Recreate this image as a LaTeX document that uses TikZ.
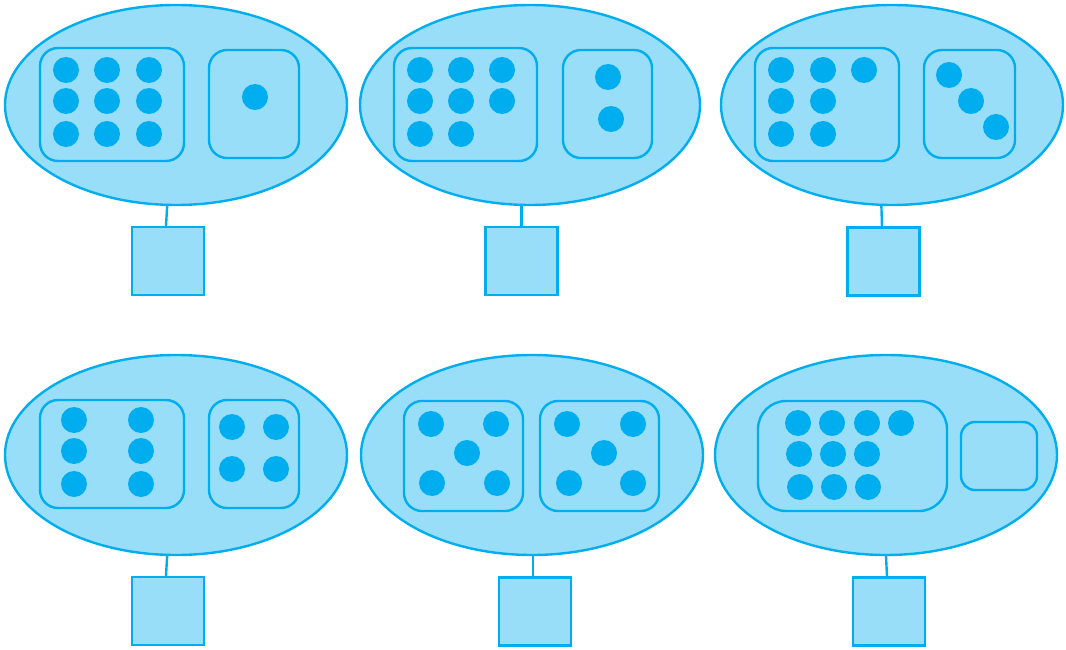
\documentclass[tikz,border=0pt]{standalone}
\usetikzlibrary{shapes.geometric}
\definecolor{cyanline}{HTML}{00AEEF}
\definecolor{cyanfill}{HTML}{99DEF8}
\begin{document}
\begin{tikzpicture}[x=1pt,y=-1pt,
  oval/.style={ellipse, draw=cyanline, fill=cyanfill, line width=2.4pt, minimum width=342pt, minimum height=200pt, inner sep=0pt},
  tray/.style={rectangle, rounded corners=18pt, draw=cyanline, fill=cyanfill, line width=2.4pt, inner sep=0pt},
  sq/.style={rectangle, draw=cyanline, fill=cyanfill, line width=2.4pt, minimum width=72pt, minimum height=68pt, inner sep=0pt},
  dot/.style={circle, fill=cyanline, minimum size=26pt, inner sep=0pt},
  link/.style={draw=cyanline, line width=2.4pt}]
\useasboundingbox (0,0) rectangle (1066,650);

% ---------- panel 1 ----------
\node[oval] (e1) at (176,105) {};
\node[tray, minimum width=144pt, minimum height=113pt] (t1a) at (112,104.5) {};
\node[tray, minimum width=90pt, minimum height=108pt] (t1b) at (254,104) {};
\foreach \x/\y [count=\i] in {66/70,107/70,149/70,66/101,107/101,149/101,66/134,107/134,149/134}
  \node[dot] (p1d\i) at (\x,\y) {};
\node[dot] (p1e1) at (255,97) {};
\node[sq] (s1) at (168,261) {};
\draw[link] (e1.265) -- ([xshift=-2pt]s1.north);

% ---------- panel 2 ----------
\node[oval, minimum width=340pt] (e2) at (530,105) {};
\node[tray, minimum width=143pt, minimum height=113pt] (t2a) at (465.5,104.5) {};
\node[tray, minimum width=89pt, minimum height=108pt] (t2b) at (607.5,104) {};
\foreach \x/\y [count=\i] in {420/70,461/70,502/70,420/101,461/101,502/101,420/134,461/134}
  \node[dot] (p2d\i) at (\x,\y) {};
\node[dot] (p2e1) at (608,77) {};
\node[dot] (p2e2) at (611,119) {};
\node[sq] (s2) at (521.5,261) {};
\draw[link] (e2.south -| s2.north) -- (s2.north);

% ---------- panel 3 ----------
\node[oval] (e3) at (892,105) {};
\node[tray, minimum width=144pt, minimum height=113pt] (t3a) at (827,104.5) {};
\node[tray, minimum width=91pt, minimum height=108pt] (t3b) at (969.5,104) {};
\foreach \x/\y [count=\i] in {781/70,823/70,864/70,781/101,823/101,781/134,823/134}
  \node[dot] (p3d\i) at (\x,\y) {};
\foreach \x/\y [count=\i] in {949/75,971/101,996/127}
  \node[dot] (p3e\i) at (\x,\y) {};
\node[sq] (s3) at (883.5,261.5) {};
\draw[link] (e3.264) -- ([xshift=-1.5pt]s3.north);

% ---------- panel 4 ----------
\node[oval] (e4) at (176,455) {};
\node[tray, minimum width=144pt, minimum height=108pt] (t4a) at (112,454) {};
\node[tray, minimum width=90pt, minimum height=108pt] (t4b) at (254,454) {};
\foreach \x/\y [count=\i] in {74/420,141/420,74/451,141/451,74/484,141/484}
  \node[dot] (p4d\i) at (\x,\y) {};
\foreach \x/\y [count=\i] in {232/427,276/427,232/469,276/469}
  \node[dot] (p4e\i) at (\x,\y) {};
\node[sq] (s4) at (168,611) {};
\draw[link] (e4.265) -- ([xshift=-2pt]s4.north);

% ---------- panel 5 ----------
\node[oval] (e5) at (532,455) {};
\node[tray, minimum width=119pt, minimum height=110pt] (t5a) at (463.5,456) {};
\node[tray, minimum width=119pt, minimum height=110pt] (t5b) at (599.5,456) {};
\foreach \x/\y [count=\i] in {431/424,496/424,467/453,432/483,497/483}
  \node[dot] (p5d\i) at (\x,\y) {};
\foreach \x/\y [count=\i] in {567/424,633/424,604/453,569/483,633/483}
  \node[dot] (p5e\i) at (\x,\y) {};
\node[sq] (s5) at (535,611.5) {};
\draw[link] ([xshift=1pt]e5.south) -- ([xshift=-2pt]s5.north);

% ---------- panel 6 ----------
\node[oval] (e6) at (886,455) {};
\node[tray, rounded corners=28pt, minimum width=189pt, minimum height=110pt] (t6a) at (852.5,456) {};
\node[tray, rounded corners=14pt, minimum width=76pt, minimum height=68pt] (t6b) at (999,456) {};
\foreach \x/\y [count=\i] in {798/423,832/423,867/423,901/423,799/454,833/454,867/454,800/487,834/487,868/487}
  \node[dot] (p6d\i) at (\x,\y) {};
\node[sq] (s6) at (889,611.5) {};
\draw[link] (e6.south) -- ([xshift=-2pt]s6.north);
\end{tikzpicture}
\end{document}
